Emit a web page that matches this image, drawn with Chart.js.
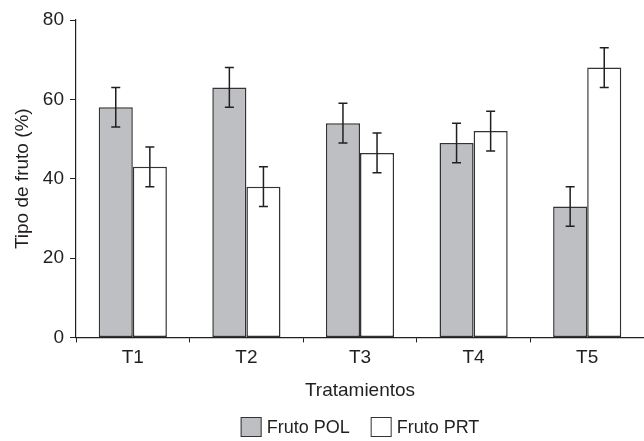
<!DOCTYPE html>
<html>
<head>
<meta charset="utf-8">
<script src="https://cdn.jsdelivr.net/npm/chart.js@4"></script>
<style>
  html, body { margin: 0; padding: 0; background: #fff; }
  canvas { display: block; }
</style>
</head>
<body>
<canvas id="chart" width="644" height="441"></canvas>
<script>
const categories = ["T1", "T2", "T3", "T4", "T5"];
const polValues = [58, 63, 54, 49, 33];
const prtValues = [43, 38, 46.5, 52, 68];
const polErrors = [5, 5, 5, 5, 5];
const prtErrors = [5, 5, 5, 5, 5];
const yTicks = [0, 20, 40, 60, 80];

const FONT = "'Liberation Sans', Arial, Helvetica, sans-serif";
const INK = "#231f20";

// error bars drawn on top of each bar, using the y scale
const errorBars = {
   id: "errorBars",
   afterDatasetsDraw(chart) {
      const ctx = chart.ctx;
      const y = chart.scales.y;
      chart.data.datasets.forEach((ds, di) => {
         const meta = chart.getDatasetMeta(di);
         meta.data.forEach((bar, i) => {
            const v = ds.data[i];
            const e = ds.errors[i];
            const top = y.getPixelForValue(v + e);
            const bot = y.getPixelForValue(v - e);
            const x = bar.x;
            ctx.save();
            ctx.strokeStyle = INK;
            ctx.lineWidth = 1.5;
            ctx.beginPath();
            ctx.moveTo(x, top);
            ctx.lineTo(x, bot);
            ctx.moveTo(x - 4.5, top);
            ctx.lineTo(x + 4.5, top);
            ctx.moveTo(x - 4.5, bot);
            ctx.lineTo(x + 4.5, bot);
            ctx.stroke();
            ctx.restore();
         });
      });
   },
};

// simple legend under the axis title, centred on the plot area
const bottomLegend = {
   id: "bottomLegend",
   afterDraw(chart) {
      const ctx = chart.ctx;
      const area = chart.chartArea;
      const box = { w: 21, h: 20, gap: 5, spacing: 21 };
      ctx.save();
      ctx.font = "18px " + FONT;
      ctx.textBaseline = "middle";
      const items = chart.data.datasets.map((ds) => ({
         text: ds.label,
         fill: ds.backgroundColor,
         width: ctx.measureText(ds.label).width,
      }));
      let total = 0;
      items.forEach((it, i) => {
         total += box.w + box.gap + it.width + (i > 0 ? box.spacing : 0);
      });
      let x = (area.left + area.right) / 2 - total / 2;
      const top = 417;
      items.forEach((it) => {
         ctx.fillStyle = it.fill;
         ctx.fillRect(x, top, box.w, box.h);
         ctx.strokeStyle = "#333333";
         ctx.lineWidth = 1;
         ctx.strokeRect(x + 0.5, top + 0.5, box.w - 1, box.h - 1);
         ctx.fillStyle = INK;
         ctx.fillText(it.text, x + box.w + box.gap, top + box.h / 2 + 1);
         x += box.w + box.gap + it.width + box.spacing;
      });
      ctx.restore();
   },
};

new Chart(document.getElementById("chart").getContext("2d"), {
   type: "bar",
   data: {
      labels: categories,
      datasets: [
         {
            label: "Fruto POL",
            data: polValues,
            errors: polErrors,
            backgroundColor: "#bebfc3",
            borderColor: "#333333",
            borderWidth: 1.5,
            borderSkipped: false,
         },
         {
            label: "Fruto PRT",
            data: prtValues,
            errors: prtErrors,
            backgroundColor: "#ffffff",
            borderColor: "#333333",
            borderWidth: 1.5,
            borderSkipped: false,
         },
      ],
   },
   options: {
      responsive: false,
      animation: false,
      categoryPercentage: 0.6,
      barPercentage: 1.0,
      layout: {
         padding: { top: 20, right: 0, bottom: 39, left: 0 },
      },
      plugins: {
         tooltip: { enabled: false },
         legend: { display: false },
      },
      scales: {
         x: {
            grid: {
               offset: true,
               drawOnChartArea: false,
               drawTicks: true,
               tickLength: 5,
               color: INK,
            },
            border: { display: true, color: INK, width: 1.2 },
            ticks: {
               color: INK,
               padding: 4,
               font: { family: FONT, size: 19 },
            },
            title: {
               display: true,
               text: "Tratamientos",
               color: INK,
               padding: { top: 6, bottom: 0 },
               font: { family: FONT, size: 19 },
            },
         },
         y: {
            min: 0,
            max: 80,
            afterBuildTicks(scale) {
               scale.ticks = yTicks.map((v) => ({ value: v }));
            },
            afterFit(scale) {
               scale.width = 76;
            },
            grid: {
               drawOnChartArea: false,
               drawTicks: true,
               tickLength: 6,
               color: INK,
            },
            border: { display: true, color: INK, width: 1.2 },
            ticks: {
               color: INK,
               padding: 6,
               font: { family: FONT, size: 19 },
            },
            title: {
               display: true,
               text: "Tipo de fruto (%)",
               color: INK,
               padding: { top: 11, bottom: 0 },
               font: { family: FONT, size: 19 },
            },
         },
      },
   },
   plugins: [errorBars, bottomLegend],
});
</script>
</body>
</html>
